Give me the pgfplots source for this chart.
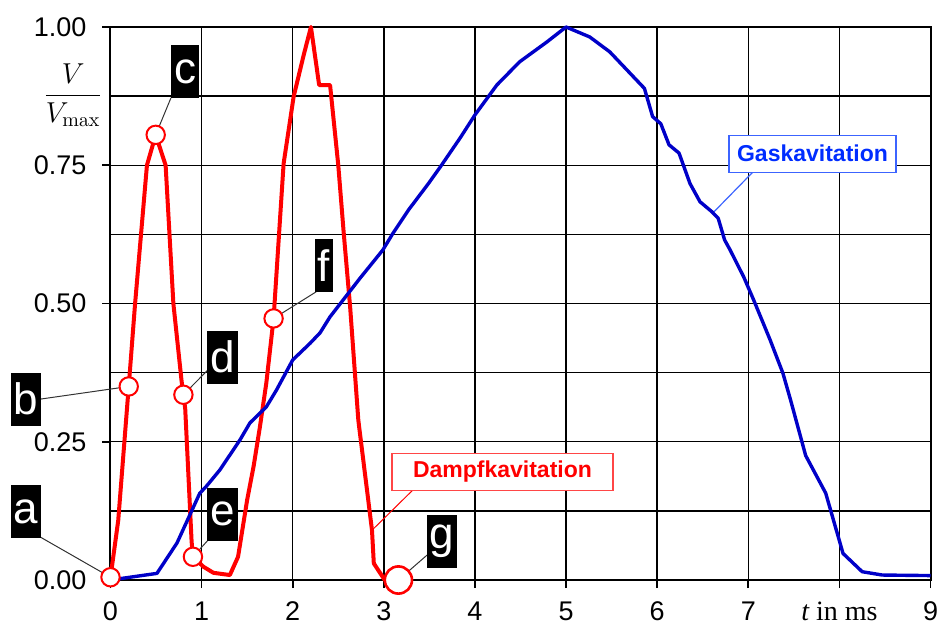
\documentclass[border=0pt]{standalone}
\usepackage[no-math]{fontspec}
\setmainfont{Liberation Sans}
\newfontfamily\seriffont{Liberation Serif}
\usepackage{pgfplots}
\usepackage{pgfplotstable}
\pgfplotsset{compat=1.18}
\definecolor{curveblue}{RGB}{0,0,200}
\definecolor{labelblue}{RGB}{0,45,255}
\definecolor{boxblue}{RGB}{60,100,255}
\definecolor{boxred}{RGB}{255,70,70}

\pgfplotstableread{
x y
0 0.005
0.085 0.108
0.2 0.35
0.27 0.5
0.4 0.75
0.496 0.805
0.605 0.75
0.69 0.5
0.78 0.36
0.8 0.335
0.82 0.31
0.89 0.07
0.905 0.042
1.02 0.024
1.13 0.013
1.31 0.009
1.40 0.042
1.50 0.145
1.57 0.205
1.64 0.277
1.71 0.356
1.79 0.473
1.90 0.753
2.01 0.874
2.12 0.949
2.20 1.0
2.29 0.895
2.41 0.895
2.50 0.75
2.56 0.627
2.63 0.494
2.72 0.289
2.87 0.09
2.89 0.03
3.01 0.0
3.16 0.0
}\dampf

\pgfplotstableread{
x y
0 0
0.51 0.012
0.73 0.067
0.98 0.157
1.05 0.169
1.2 0.199
1.42 0.253
1.53 0.284
1.71 0.313
1.82 0.343
2.0 0.398
2.19 0.428
2.3 0.447
2.41 0.476
2.74 0.546
2.99 0.597
3.10 0.627
3.27 0.669
3.49 0.717
3.62 0.747
3.84 0.80
4.0 0.841
4.24 0.895
4.49 0.937
4.79 0.973
5.0 1.0
5.26 0.982
5.48 0.955
5.86 0.889
5.95 0.838
6.04 0.825
6.13 0.787
6.24 0.772
6.36 0.717
6.47 0.684
6.60 0.666
6.67 0.654
6.74 0.615
6.80 0.597
6.95 0.548
7.06 0.506
7.24 0.434
7.38 0.374
7.46 0.328
7.63 0.225
7.85 0.157
8.04 0.048
8.25 0.015
8.47 0.009
9.0 0.008
}\gas

\pgfplotstableread{
x y
0 0.005
0.2 0.35
0.496 0.805
0.8 0.335
0.905 0.042
1.79 0.473
}\pts

\pgfplotstableread{
x y
3.16 0.0
}\ptg

\begin{document}
\begin{tikzpicture}
\useasboundingbox (-55.25pt,-24pt) rectangle (414.75pt,290pt);
\begin{axis}[
  at={(0,0)}, anchor=south west,
  width=410pt, height=276.5pt, scale only axis,
  xmin=0, xmax=9, ymin=0, ymax=1,
  clip=false,
  xtick={0,1,...,9},
  xticklabels={0,1,2,3,4,5,6,7,{\seriffont\fontsize{14}{16}\selectfont{\itshape t} in ms},9},
  ytick={0,0.25,0.5,0.75,1},
  yticklabels={0.00,0.25,0.50,0.75,1.00},
  minor y tick num=1,
  grid=both,
  major grid style={black, line width=0.7pt},
  minor grid style={black, line width=0.7pt},
  axis line style={black, line width=1pt},
  tick align=outside,
  xtick pos=bottom, ytick pos=left,
  major tick length=4pt, minor tick length=0pt,
  tick style={black, line width=0.8pt},
  ticklabel style={font=\fontsize{13.5}{15}\selectfont},
  yticklabel style={xshift=-4.5pt},
  xticklabel style={yshift=-3.5pt},
  /pgf/number format/assume math mode=true,
]
% leader lines
\draw[black!80, line width=0.5pt] (axis cs:-0.774,0.078) -- (axis cs:0,0.005);
\draw[black!80, line width=0.5pt] (axis cs:-0.774,0.327) -- (axis cs:0.2,0.35);
\draw[black!80, line width=0.5pt] (axis cs:0.664,0.872) -- (axis cs:0.496,0.805);
\draw[black!80, line width=0.5pt] (axis cs:1.07,0.38) -- (axis cs:0.8,0.335);
\draw[black!80, line width=0.5pt] (axis cs:1.07,0.072) -- (axis cs:0.905,0.042);
\draw[black!80, line width=0.5pt] (axis cs:2.256,0.521) -- (axis cs:1.79,0.473);
\draw[black!80, line width=0.5pt] (axis cs:3.474,0.045) -- (axis cs:3.16,0.0);
\draw[red, line width=0.5pt] (axis cs:3.32,0.163) -- (axis cs:2.87,0.09);
\draw[boxblue, line width=0.6pt] (axis cs:7.052,0.738) -- (axis cs:6.613,0.664);

\addplot[red, line width=2pt, line join=round, mark=none] table[x=x,y=y] {\dampf};
\addplot[curveblue, line width=1.7pt, line join=round, mark=none] table[x=x,y=y] {\gas};

\addplot[only marks, mark=*, mark size=4.6pt, mark options={fill=white, draw=red, line width=1pt}] table[x=x,y=y] {\pts};
\addplot[only marks, mark=*, mark size=6.8pt, mark options={fill=white, draw=red, line width=1.3pt}] table[x=x,y=y] {\ptg};

% letter boxes
\tikzset{lbl/.style={fill=black, text=white, font=\fontsize{22}{22}\selectfont, minimum height=26.5pt, inner xsep=1.5pt, inner ysep=0pt, anchor=center}}
\node[lbl] at (axis cs:-0.927,0.123) {a};
\node[lbl] at (axis cs:-0.927,0.327) {b};
\node[lbl] at (axis cs:0.818,0.919) {c};
\node[lbl] at (axis cs:1.229,0.403) {d};
\node[lbl] at (axis cs:1.229,0.119) {e};
\node[lbl] at (axis cs:2.343,0.569) {f};
\node[lbl] at (axis cs:3.638,0.0705) {g};

\node[draw=boxred, line width=0.6pt, fill=white, text=red, font=\bfseries\fontsize{11.5}{13}\selectfont, minimum width=110.5pt, minimum height=18.5pt, inner sep=0pt] at (axis cs:4.302,0.196) {Dampfkavitation};
\node[draw=boxblue, line width=0.6pt, fill=white, text=labelblue, font=\bfseries\fontsize{11.5}{13}\selectfont, minimum width=83.5pt, minimum height=18.5pt, inner sep=0pt] at (axis cs:7.705,0.771) {Gaskavitation};

\node[font=\fontsize{14.5}{16}\selectfont] at (axis cs:-0.41,0.877) {$\displaystyle\frac{V}{V_{\mathrm{max}}}$};
\end{axis}
\end{tikzpicture}
\end{document}
